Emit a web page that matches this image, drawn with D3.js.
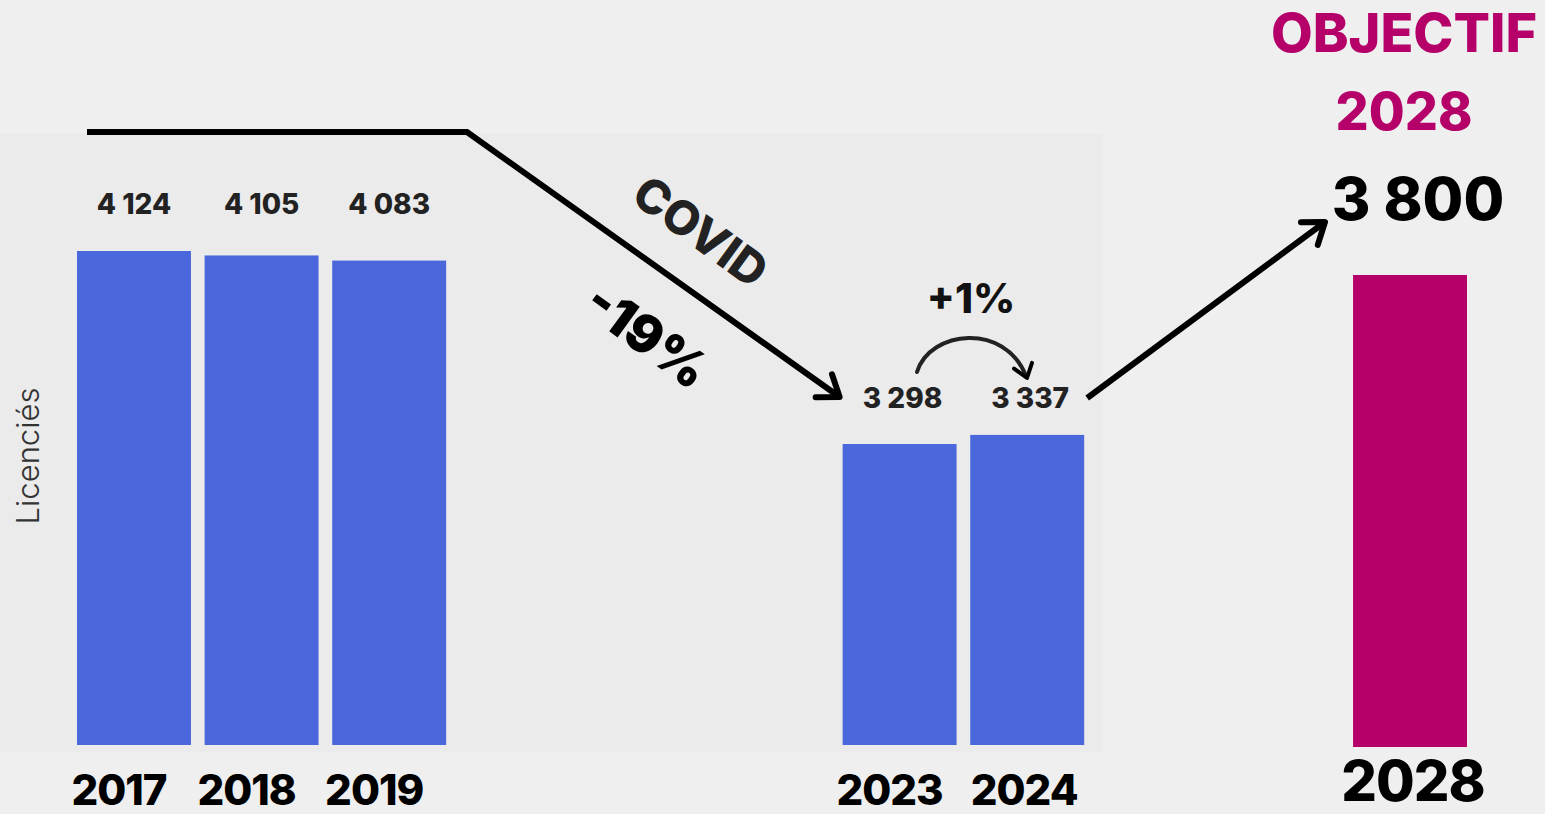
<!DOCTYPE html>
<html lang="fr">
<head>
<meta charset="UTF-8">
<title>Licenciés</title>
<script src="https://d3js.org/d3.v7.min.js"></script>
<style>
  html, body { margin: 0; padding: 0; background: #efefef; }
  svg { display: block; font-family: Inter, "Open Sans", sans-serif; }
</style>
</head>
<body>
<svg width="1545" height="814"></svg>
<script>
// data
const years = ["2017", "2018", "2019", "2023", "2024"];
const licencies = [4124, 4105, 4083, 3298, 3337];
const goalYear = "2028";
const goalValue = 3800;
// slots on the x axis (2027 dropped as a break)
const slots = ["2017", "2018", "2019", "2020", "2021", "2022", "2023", "2024", "2025", "2026", "2028"];

const fmt = v => d3.format(",")(v).replace(",", " ");

const svg = d3.select("svg");

const x = d3.scaleBand().domain(slots).range([77, 1467]).paddingInner(0.107).paddingOuter(0);
const y = d3.scaleLinear().domain([2010, 4124]).range([745, 251]);
const yGoal = d3.scaleLinear().domain([0, goalValue]).range([747, 275]);

// panel behind the history bars
svg.append("rect")
  .attr("x", 0).attr("y", 133)
  .attr("width", 1103).attr("height", 619)
  .attr("fill", "#ebebeb");

const data = years.map((d, i) => ({ year: d, value: licencies[i] }));

svg.selectAll("rect.bar")
  .data(data)
  .enter().append("rect")
  .attr("class", "bar")
  .attr("x", d => x(d.year))
  .attr("y", d => y(d.value))
  .attr("width", x.bandwidth())
  .attr("height", d => y.range()[0] - y(d.value))
  .attr("fill", "#4a68dc");

svg.append("rect")
  .attr("x", x(goalYear))
  .attr("y", yGoal(goalValue))
  .attr("width", x.bandwidth())
  .attr("height", yGoal(0) - yGoal(goalValue))
  .attr("fill", "#b5006a");

// value labels
svg.selectAll("text.val")
  .data(data)
  .enter().append("text")
  .attr("class", "val")
  .attr("x", d => x(d.year) + x.bandwidth() / 2 + (d.value > 4000 ? 0 : 3))
  .attr("y", d => d.value > 4000 ? 214 : 408)
  .attr("text-anchor", "middle")
  .attr("font-size", 28)
  .attr("font-weight", 800)
  .attr("fill", "#222")
  .text(d => fmt(d.value));

// year labels
svg.selectAll("text.year")
  .data(years)
  .enter().append("text")
  .attr("class", "year")
  .attr("x", d => x(d) + x.bandwidth() / 2 - (d < "2020" ? 15 : (d === "2023" ? 10 : 3)))
  .attr("y", 805)
  .attr("text-anchor", "middle")
  .attr("font-size", 42)
  .attr("font-weight", 800)
  .attr("letter-spacing", -1)
  .attr("fill", "#000")
  .text(d => d);

svg.append("text")
  .attr("x", x(goalYear) + x.bandwidth() / 2 + 3)
  .attr("y", 801)
  .attr("text-anchor", "middle")
  .attr("font-size", 56)
  .attr("font-weight", 800)
  .attr("letter-spacing", -1)
  .attr("fill", "#000")
  .text(goalYear);

// axis title
svg.append("text")
  .attr("transform", "translate(39,456) rotate(-90)")
  .attr("text-anchor", "middle")
  .attr("font-size", 31)
  .attr("font-weight", 300)
  .attr("fill", "#333")
  .text("Licenciés");

// arrows
function chevron(x1, y1, x2, y2, len, w) {
  const a = Math.atan2(y2 - y1, x2 - x1);
  const s = Math.PI * 0.8;
  const p1 = [x2 + len * Math.cos(a + s), y2 + len * Math.sin(a + s)];
  const p2 = [x2 + len * Math.cos(a - s), y2 + len * Math.sin(a - s)];
  svg.append("path")
    .attr("d", `M${p1}L${x2},${y2}L${p2}`)
    .attr("fill", "none").attr("stroke", "#000")
    .attr("stroke-width", w)
    .attr("stroke-linecap", "round").attr("stroke-linejoin", "round");
}

const lineTop = 132;
const drop = [x("2023") - 3, 397];
svg.append("path")
  .attr("d", `M87,${lineTop}L467,${lineTop}L${drop}`)
  .attr("fill", "none").attr("stroke", "#000").attr("stroke-width", 6);
chevron(467, lineTop, drop[0], drop[1], 24, 6);

const rise0 = [x("2024") + x.bandwidth() + 3, 398];
const rise1 = [1325, 222];
svg.append("line")
  .attr("x1", rise0[0]).attr("y1", rise0[1])
  .attr("x2", rise1[0]).attr("y2", rise1[1])
  .attr("stroke", "#000").attr("stroke-width", 6);
chevron(rise0[0], rise0[1], rise1[0], rise1[1], 24, 6);

// small curved arrow between 2023 and 2024
svg.append("path")
  .attr("d", "M917,372 C930,330 1005,322 1026,376")
  .attr("fill", "none").attr("stroke", "#222")
  .attr("stroke-width", 4).attr("stroke-linecap", "round");
chevron(1018, 350, 1027, 378, 16, 4);

// annotation texts
svg.append("text")
  .attr("transform", "translate(701,231) rotate(36)")
  .attr("text-anchor", "middle").attr("dominant-baseline", "central")
  .attr("font-size", 47).attr("font-weight", 800).attr("fill", "#222")
  .text("COVID");

svg.append("text")
  .attr("transform", "translate(647,336) rotate(36)")
  .attr("text-anchor", "middle").attr("dominant-baseline", "central")
  .attr("font-size", 52).attr("font-weight", 900).attr("fill", "#000")
  .text("-19%");

svg.append("text")
  .attr("x", 971).attr("y", 313)
  .attr("text-anchor", "middle")
  .attr("font-size", 41).attr("font-weight", 800).attr("fill", "#111")
  .text("+1%");

svg.append("text")
  .attr("x", 1404).attr("y", 52)
  .attr("text-anchor", "middle")
  .attr("font-size", 54).attr("font-weight", 800).attr("fill", "#b5006a")
  .text("OBJECTIF");

svg.append("text")
  .attr("x", 1404).attr("y", 130)
  .attr("text-anchor", "middle")
  .attr("font-size", 52).attr("font-weight", 800).attr("fill", "#b5006a")
  .text(goalYear);

svg.append("text")
  .attr("x", 1418).attr("y", 220)
  .attr("text-anchor", "middle")
  .attr("font-size", 59).attr("font-weight", 800).attr("fill", "#000")
  .text(fmt(goalValue));
</script>
</body>
</html>
